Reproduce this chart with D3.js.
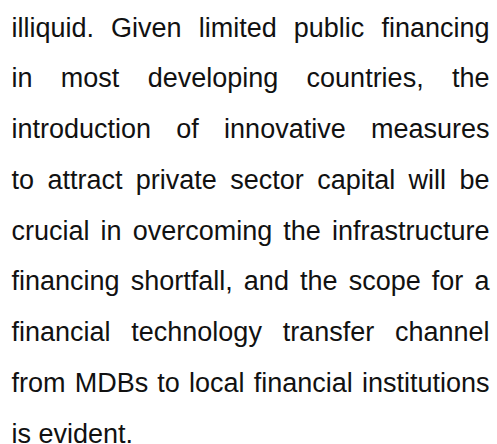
<!DOCTYPE html>
<html>
<head>
<meta charset="utf-8">
<script src="https://cdn.jsdelivr.net/npm/d3@7"></script>
<style>
  html, body { margin: 0; padding: 0; background: #fff; }
  svg { display: block; }
</style>
</head>
<body>
<svg id="chart" width="497" height="444"></svg>
<script>
const lines = [
  "illiquid. Given limited public financing",
  "in most developing countries, the",
  "introduction of innovative measures",
  "to attract private sector capital will be",
  "crucial in overcoming the infrastructure",
  "financing shortfall, and the scope for a",
  "financial technology transfer channel",
  "from MDBs to local financial institutions",
  "is evident."
];
const lastLineIndex = [8];

const W = 497, H = 444;
const left = 11.5, right = 489.5;
const fontSize = 27;

const svg = d3.select("#chart");
svg.append("rect").attr("width", W).attr("height", H).attr("fill", "#fff");

const y = d3.scaleLinear().domain([0, lines.length - 1]).range([36.5, 442.5]);
const x = d3.scaleLinear().domain([0, 1]).range([left, right]);

const g = svg.append("g")
  .attr("font-family", "'Liberation Sans', Arial, Helvetica, sans-serif")
  .attr("font-size", fontSize)
  .attr("fill", "#111");

// measure a normal space
const probe = g.append("text").text("a a");
const probe2 = g.append("text").text("aa");
const spaceW = probe.node().getComputedTextLength() - probe2.node().getComputedTextLength();
probe.remove(); probe2.remove();

lines.forEach((ln, i) => {
  const words = ln.split(" ");
  const row = g.append("g");
  const texts = row.selectAll("text").data(words).join("text")
    .attr("y", y(i))
    .text(d => d);
  const widths = texts.nodes().map(n => n.getComputedTextLength());
  const total = d3.sum(widths);
  const isLast = lastLineIndex.includes(i);
  const gap = isLast || words.length < 2 ? spaceW : (x(1) - x(0) - total) / (words.length - 1);
  let cx = x(0);
  const xs = widths.map(w => { const p = cx; cx += w + gap; return p; });
  texts.attr("x", (d, k) => xs[k]);
});
</script>
</body>
</html>
